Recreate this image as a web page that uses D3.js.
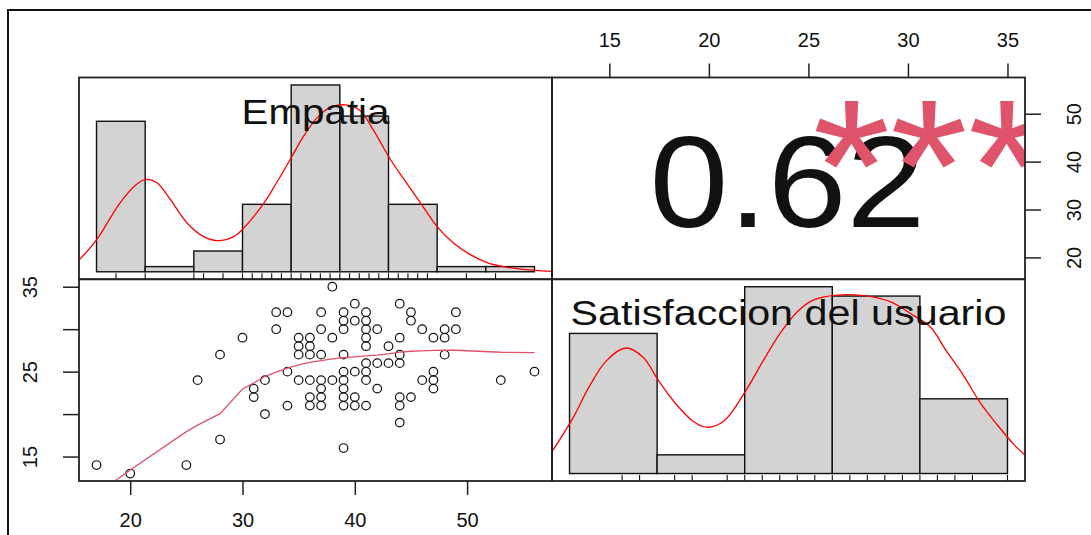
<!DOCTYPE html>
<html>
<head>
<meta charset="utf-8">
<script src="https://cdn.jsdelivr.net/npm/d3@7/dist/d3.min.js"></script>
<style>
  body { margin: 0; background: #fff; }
  svg text { font-family: "Liberation Sans", Arial, sans-serif; fill: #111; }
</style>
</head>
<body>
<script>
// Variable names
const varNames = ["Empatia", "Satisfaccion del usuario"];
// Scatter points (Empatia, Satisfaccion)
const empatia = [17,20,25,26,28,28,30,31,31,32,32,33,33,34,34,34,35,35,35,35,36,36,36,36,36,36,37,37,37,37,37,37,37,38,38,38,39,39,39,39,39,39,39,39,39,39,40,40,40,40,40,41,41,41,41,41,41,41,41,41,42,42,42,43,43,44,44,44,44,44,44,44,45,45,45,46,46,47,47,47,47,48,48,48,49,49,53,56];
const satisf  = [14,13,14,24,27,17,29,23,22,24,20,32,30,32,25,21,29,28,27,24,29,28,27,24,22,21,32,30,27,24,23,22,21,35,29,24,32,31,30,27,25,24,23,22,21,16,33,31,25,22,21,32,31,30,29,28,26,25,24,21,30,26,23,28,26,33,29,27,26,22,21,19,32,31,22,30,24,29,25,24,23,30,29,27,32,30,24,25];
// Histograms
const empBreaks = [15,20,25,30,35,40,45,50,55,60];
const empCounts = [29,1,4,13,36,30,13,1,1];
const satBreaks = [10,15,20,25,30,35];
const satCounts = [30,4,40,38,16];
// Density curves
const empDensX = [13.2,15.0,17.4,19.1,20.1,21.2,22.6,24.3,26.0,27.4,29.1,30.1,32.2,33.5,34.9,36.3,37.7,39.0,40.75,42.1,43.5,45.2,46.6,48.3,50.0,51.7,53.45,55.2,56.9,58.6,61.8];
const empDensY = [0.0035,0.0096,0.0207,0.0263,0.0278,0.0268,0.0217,0.0147,0.0106,0.0094,0.0106,0.0131,0.0207,0.0268,0.0338,0.0409,0.0465,0.0495,0.0502,0.0485,0.0424,0.0338,0.0278,0.0207,0.0136,0.0086,0.0051,0.0027,0.0015,0.0008,0.0001];
const satDensX = [9.0,10.2,11.1,12.1,13.2,14.2,15.1,16.1,17.05,17.8,18.8,20.1,21.05,22.0,23.0,23.9,25.25,26.8,28.3,29.6,30.6,31.5,32.5,33.45,34.4,35.4,36.1];
const satDensY = [0.0073,0.0186,0.0288,0.0377,0.0420,0.0389,0.0309,0.0231,0.0175,0.0155,0.0175,0.0281,0.0377,0.0467,0.0541,0.0580,0.0597,0.0595,0.0575,0.0530,0.0490,0.0411,0.0327,0.0236,0.0164,0.0095,0.0056];
// Smoother in scatter
const smoothX = [17,20,25,26,28,30,31,32,33,34,35,36,37,38,39,40,41,42,43,44,45,46,47,48,49,53,56];
const smoothY = [10.6,13.41,17.93,18.7,20.05,22.95,23.65,24.45,24.95,25.4,25.8,26.1,26.3,26.5,26.65,26.75,26.85,26.95,27.1,27.3,27.4,27.45,27.5,27.52,27.52,27.28,27.25];
// Correlation
const corText = "0.62";
const signif = "***";
// Tick labels
const empTicks = [20,30,40,50];
const satTicks = [15,20,25,30,35];
const satLeftLabels = [15,25,35];

// Setup
const width = 1091, height = 535;
const svg = d3.select("body").append("svg").attr("width", width).attr("height", height);
const colX = [79, 552, 1025];
const rowY = [77.5, 279.25, 481];
const red = "#ff0000", pink = "#df536b";

// R style limits: range plus 4% each side
const padRange = (a, b) => [a - (b - a) * 0.04, b + (b - a) * 0.04];

const xEmp = d3.scaleLinear().domain(padRange(d3.min(empatia), d3.max(empatia))).range([colX[0], colX[1]]);
const xSat = d3.scaleLinear().domain(padRange(d3.min(satisf), d3.max(satisf))).range([colX[1], colX[2]]);
const yEmp = d3.scaleLinear().domain(padRange(d3.min(empatia), d3.max(empatia))).range([rowY[1], rowY[0]]);
const ySat = d3.scaleLinear().domain(padRange(d3.min(satisf), d3.max(satisf))).range([rowY[2], rowY[1]]);

// Clip paths per panel
const defs = svg.append("defs");
[0, 1].forEach(c => [0, 1].forEach(r => {
  defs.append("clipPath").attr("id", `clip${c}${r}`)
    .append("rect")
    .attr("x", colX[c]).attr("y", rowY[r])
    .attr("width", colX[c + 1] - colX[c]).attr("height", rowY[r + 1] - rowY[r]);
}));

// Diagonal: histogram + density + rug + label
function drawHist(col, row, breaks, counts, densX, densY, values, label) {
  const x0 = colX[col], x1 = colX[col + 1], y0 = rowY[row], y1 = rowY[row + 1];
  const n = d3.sum(counts), bw = breaks[1] - breaks[0];
  const dens = counts.map(c => c / (n * bw));
  const hx = d3.scaleLinear().domain(padRange(breaks[0], breaks[breaks.length - 1])).range([x0, x1]);
  const hy = d3.scaleLinear().domain(padRange(0, d3.max(dens))).range([y1, y0]);
  const g = svg.append("g").attr("clip-path", `url(#clip${col}${row})`);

  g.selectAll("rect")
    .data(dens)
    .enter().append("rect")
    .attr("x", (d, i) => hx(breaks[i]))
    .attr("width", (d, i) => hx(breaks[i + 1]) - hx(breaks[i]))
    .attr("y", d => hy(d))
    .attr("height", d => hy(0) - hy(d))
    .attr("fill", "#d3d3d3")
    .attr("stroke", "#111")
    .attr("stroke-width", 1.4);

  g.append("path")
    .datum(densX.map((v, i) => [v, densY[i]]))
    .attr("d", d3.line().x(d => hx(d[0])).y(d => hy(d[1])).curve(d3.curveCatmullRom))
    .attr("fill", "none")
    .attr("stroke", red)
    .attr("stroke-width", 1.3);

  // rug of unique values
  g.selectAll("line.rug")
    .data(Array.from(new Set(values)))
    .enter().append("line")
    .attr("class", "rug")
    .attr("x1", d => hx(d)).attr("x2", d => hx(d))
    .attr("y1", y1).attr("y2", y1 - (y1 - y0) * 0.03)
    .attr("stroke", "#111")
    .attr("stroke-width", 1.1);

  svg.append("text")
    .text(label)
    .attr("x", (x0 + x1) / 2)
    .attr("y", y0 + (y1 - y0) / 6 + 12.5)
    .attr("text-anchor", "middle")
    .attr("font-size", 35)
    .attr("textLength", label.length > 10 ? 436 : 148)
    .attr("lengthAdjust", "spacingAndGlyphs");
}
drawHist(0, 0, empBreaks, empCounts, empDensX, empDensY, empatia, varNames[0]);
drawHist(1, 1, satBreaks, satCounts, satDensX, satDensY, satisf, varNames[1]);

// Lower panel: scatter + smoother
const sc = svg.append("g").attr("clip-path", "url(#clip01)");
sc.selectAll("circle")
  .data(empatia.map((v, i) => [v, satisf[i]]))
  .enter().append("circle")
  .attr("cx", d => xEmp(d[0]))
  .attr("cy", d => ySat(d[1]))
  .attr("r", 4.3)
  .attr("fill", "none")
  .attr("stroke", "#111")
  .attr("stroke-width", 1.2);
sc.append("path")
  .datum(smoothX.map((v, i) => [v, smoothY[i]]))
  .attr("d", d3.line().x(d => xEmp(d[0])).y(d => ySat(d[1])))
  .attr("fill", "none")
  .attr("stroke", pink)
  .attr("stroke-width", 1.3);

// Upper panel: correlation
const cor = svg.append("g").attr("clip-path", "url(#clip10)");
cor.append("text")
  .text(corText)
  .attr("x", (colX[1] + colX[2]) / 2 - 1)
  .attr("y", 227)
  .attr("text-anchor", "middle")
  .attr("font-size", 130)
  .attr("textLength", 276)
  .attr("lengthAdjust", "spacingAndGlyphs");
cor.append("text")
  .text(signif)
  .attr("x", colX[1] + (colX[2] - colX[1]) * 0.8 - 1.5)
  .attr("y", 230.5)
  .attr("text-anchor", "middle")
  .attr("font-size", 190)
  .attr("textLength", 233)
  .attr("lengthAdjust", "spacingAndGlyphs")
  .style("fill", pink);

// Axes
function styleAxis(g) {
  g.select(".domain").remove();
  g.attr("font-size", 20).attr("font-family", null);
  g.selectAll(".tick line").attr("stroke", "#222").attr("stroke-width", 1.5);
  g.selectAll(".tick text").style("fill", "#111");
}
svg.append("g")
  .attr("transform", `translate(0,${rowY[2]})`)
  .call(d3.axisBottom(xEmp).tickValues(empTicks).tickSize(14).tickPadding(18))
  .call(styleAxis);
svg.append("g")
  .attr("transform", `translate(0,${rowY[0]})`)
  .call(d3.axisTop(xSat).tickValues(satTicks).tickSize(14).tickPadding(17))
  .call(styleAxis);
svg.append("g")
  .attr("transform", `translate(${colX[0]},0)`)
  .call(d3.axisLeft(ySat).tickValues(satTicks).tickSize(16)
    .tickFormat(d => satLeftLabels.includes(d) ? d : ""))
  .call(styleAxis)
  .call(g => g.selectAll(".tick text")
    .attr("x", null).attr("dy", null)
    .attr("text-anchor", "middle")
    .attr("transform", "translate(-42,0) rotate(-90)"));
svg.append("g")
  .attr("transform", `translate(${colX[2]},0)`)
  .call(d3.axisRight(yEmp).tickValues(empTicks).tickSize(16))
  .call(styleAxis)
  .call(g => g.selectAll(".tick text")
    .attr("x", null).attr("dy", null)
    .attr("text-anchor", "middle")
    .attr("transform", "translate(56,0) rotate(-90)"));

// Panel boxes
[0, 1].forEach(c => [0, 1].forEach(r => {
  svg.append("rect")
    .attr("x", colX[c]).attr("y", rowY[r])
    .attr("width", colX[c + 1] - colX[c]).attr("height", rowY[r + 1] - rowY[r])
    .attr("fill", "none")
    .attr("stroke", "#222")
    .attr("stroke-width", 1.8);
}));

// Outer frame (cropped screenshot)
svg.append("path")
  .attr("d", `M8,${height} V10 H${width}`)
  .attr("fill", "none")
  .attr("stroke", "#111")
  .attr("stroke-width", 2);
</script>
</body>
</html>
